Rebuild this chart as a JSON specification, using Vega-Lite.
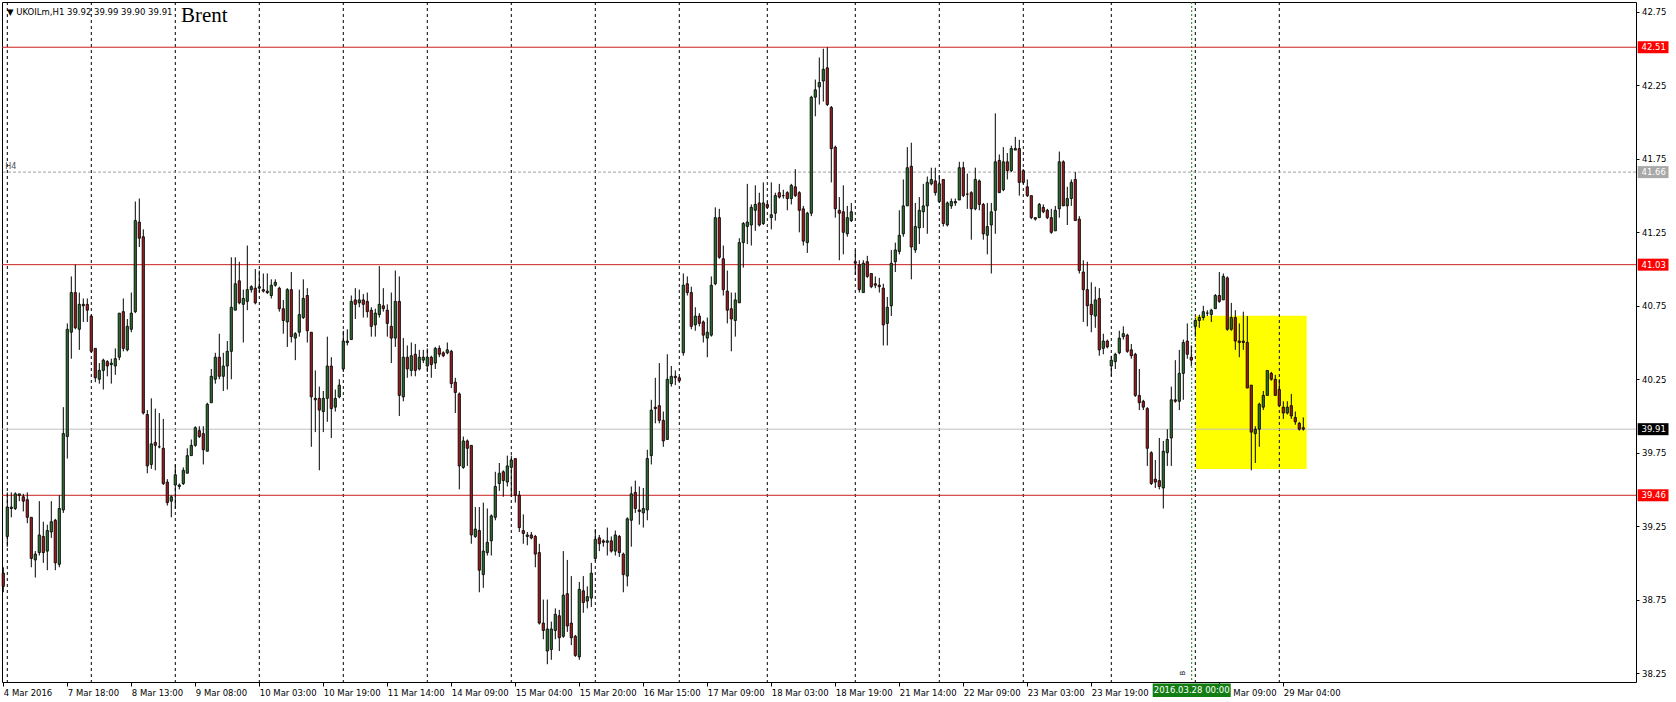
{
  "$schema": "https://vega.github.io/schema/vega-lite/v6.json",
  "width": 1634,
  "height": 680,
  "autosize": {"type": "none"},
  "padding": {"left": 2, "top": 2, "right": 40, "bottom": 20},
  "background": "white",
  "config": {
    "view": {"stroke": "black", "strokeWidth": 1},
    "scale": {"continuousPadding": 0},
    "axis": {"labelFont": "DejaVu Sans", "labelFontSize": 8.5, "labelColor": "black", "tickColor": "black", "domainColor": "black", "grid": false}
  },
  "datasets": {
    "candles": [
      {"i":0,"o":38.93,"h":38.97,"l":38.80,"c":38.84},
      {"i":1,"o":39.18,"h":39.48,"l":39.11,"c":39.38},
      {"i":2,"o":39.37,"h":39.48,"l":39.31,"c":39.38},
      {"i":3,"o":39.37,"h":39.48,"l":39.36,"c":39.47},
      {"i":4,"o":39.46,"h":39.47,"l":39.42,"c":39.47},
      {"i":5,"o":39.45,"h":39.47,"l":39.35,"c":39.42},
      {"i":6,"o":39.43,"h":39.48,"l":39.27,"c":39.31},
      {"i":7,"o":39.31,"h":39.31,"l":38.97,"c":39.03},
      {"i":8,"o":39.02,"h":39.08,"l":38.90,"c":39.06},
      {"i":9,"o":39.07,"h":39.42,"l":39.05,"c":39.19},
      {"i":10,"o":39.18,"h":39.28,"l":39.00,"c":39.07},
      {"i":11,"o":39.08,"h":39.26,"l":38.95,"c":39.22},
      {"i":12,"o":39.21,"h":39.42,"l":39.17,"c":39.28},
      {"i":13,"o":39.29,"h":39.30,"l":38.95,"c":39.00},
      {"i":14,"o":38.99,"h":39.46,"l":38.97,"c":39.37},
      {"i":15,"o":39.36,"h":40.06,"l":39.34,"c":39.88},
      {"i":16,"o":39.86,"h":40.63,"l":39.71,"c":40.59},
      {"i":17,"o":40.57,"h":40.95,"l":40.39,"c":40.84},
      {"i":18,"o":40.84,"h":41.03,"l":40.59,"c":40.60},
      {"i":19,"o":40.59,"h":40.84,"l":40.45,"c":40.76},
      {"i":20,"o":40.76,"h":40.80,"l":40.64,"c":40.75},
      {"i":21,"o":40.76,"h":40.80,"l":40.64,"c":40.72},
      {"i":22,"o":40.68,"h":40.69,"l":40.43,"c":40.44},
      {"i":23,"o":40.46,"h":40.46,"l":40.23,"c":40.26},
      {"i":24,"o":40.25,"h":40.36,"l":40.22,"c":40.31},
      {"i":25,"o":40.31,"h":40.39,"l":40.18,"c":40.38},
      {"i":26,"o":40.37,"h":40.38,"l":40.27,"c":40.34},
      {"i":27,"o":40.35,"h":40.39,"l":40.22,"c":40.36},
      {"i":28,"o":40.34,"h":40.46,"l":40.28,"c":40.39},
      {"i":29,"o":40.40,"h":40.70,"l":40.38,"c":40.70},
      {"i":30,"o":40.71,"h":40.80,"l":40.44,"c":40.46},
      {"i":31,"o":40.45,"h":40.66,"l":40.44,"c":40.61},
      {"i":32,"o":40.59,"h":40.84,"l":40.57,"c":40.70},
      {"i":33,"o":40.71,"h":41.46,"l":40.70,"c":41.33},
      {"i":34,"o":41.32,"h":41.48,"l":41.15,"c":41.21},
      {"i":35,"o":41.22,"h":41.27,"l":40.01,"c":40.02},
      {"i":36,"o":40.01,"h":40.04,"l":39.61,"c":39.66},
      {"i":37,"o":39.67,"h":40.12,"l":39.64,"c":39.81},
      {"i":38,"o":39.82,"h":40.05,"l":39.63,"c":39.80},
      {"i":39,"o":39.79,"h":40.02,"l":39.78,"c":39.79},
      {"i":40,"o":39.78,"h":39.98,"l":39.53,"c":39.54},
      {"i":41,"o":39.55,"h":39.57,"l":39.39,"c":39.41},
      {"i":42,"o":39.42,"h":39.46,"l":39.31,"c":39.45},
      {"i":43,"o":39.53,"h":39.67,"l":39.37,"c":39.60},
      {"i":44,"o":39.52,"h":39.54,"l":39.50,"c":39.53},
      {"i":45,"o":39.54,"h":39.65,"l":39.53,"c":39.63},
      {"i":46,"o":39.61,"h":39.78,"l":39.61,"c":39.73},
      {"i":47,"o":39.73,"h":39.84,"l":39.73,"c":39.80},
      {"i":48,"o":39.80,"h":39.93,"l":39.79,"c":39.92},
      {"i":49,"o":39.90,"h":39.93,"l":39.85,"c":39.86},
      {"i":50,"o":39.88,"h":39.93,"l":39.67,"c":39.77},
      {"i":51,"o":39.76,"h":40.09,"l":39.76,"c":40.08},
      {"i":52,"o":40.09,"h":40.32,"l":40.09,"c":40.27},
      {"i":53,"o":40.25,"h":40.43,"l":40.22,"c":40.40},
      {"i":54,"o":40.40,"h":40.56,"l":40.25,"c":40.27},
      {"i":55,"o":40.27,"h":40.43,"l":40.17,"c":40.34},
      {"i":56,"o":40.34,"h":40.51,"l":40.18,"c":40.44},
      {"i":57,"o":40.44,"h":41.08,"l":40.25,"c":40.74},
      {"i":58,"o":40.72,"h":41.08,"l":40.72,"c":40.90},
      {"i":59,"o":40.92,"h":41.05,"l":40.76,"c":40.77},
      {"i":60,"o":40.76,"h":40.86,"l":40.50,"c":40.80},
      {"i":61,"o":40.78,"h":41.16,"l":40.72,"c":40.86},
      {"i":62,"o":40.86,"h":40.89,"l":40.84,"c":40.88},
      {"i":63,"o":40.87,"h":41.00,"l":40.76,"c":40.77},
      {"i":64,"o":40.87,"h":40.99,"l":40.84,"c":40.88},
      {"i":65,"o":40.86,"h":40.97,"l":40.84,"c":40.85},
      {"i":66,"o":40.85,"h":40.97,"l":40.83,"c":40.84},
      {"i":67,"o":40.82,"h":40.93,"l":40.80,"c":40.89},
      {"i":68,"o":40.89,"h":40.93,"l":40.88,"c":40.91},
      {"i":69,"o":40.87,"h":40.88,"l":40.71,"c":40.73},
      {"i":70,"o":40.73,"h":40.79,"l":40.56,"c":40.65},
      {"i":71,"o":40.64,"h":40.87,"l":40.47,"c":40.86},
      {"i":72,"o":40.86,"h":40.98,"l":40.50,"c":40.54},
      {"i":73,"o":40.53,"h":40.57,"l":40.38,"c":40.56},
      {"i":74,"o":40.57,"h":40.86,"l":40.54,"c":40.69},
      {"i":75,"o":40.67,"h":40.93,"l":40.66,"c":40.80},
      {"i":76,"o":40.82,"h":40.87,"l":40.50,"c":40.58},
      {"i":77,"o":40.57,"h":40.57,"l":39.79,"c":40.13},
      {"i":78,"o":40.12,"h":40.31,"l":39.89,"c":40.11},
      {"i":79,"o":40.12,"h":40.20,"l":39.63,"c":40.04},
      {"i":80,"o":40.03,"h":40.17,"l":39.89,"c":40.12},
      {"i":81,"o":40.12,"h":40.54,"l":39.96,"c":40.34},
      {"i":82,"o":40.34,"h":40.40,"l":39.85,"c":40.05},
      {"i":83,"o":40.06,"h":40.18,"l":40.03,"c":40.12},
      {"i":84,"o":40.13,"h":40.25,"l":40.12,"c":40.21},
      {"i":85,"o":40.32,"h":40.58,"l":40.30,"c":40.51},
      {"i":86,"o":40.50,"h":40.59,"l":40.48,"c":40.51},
      {"i":87,"o":40.52,"h":40.82,"l":40.52,"c":40.78},
      {"i":88,"o":40.79,"h":40.87,"l":40.66,"c":40.76},
      {"i":89,"o":40.77,"h":40.86,"l":40.74,"c":40.79},
      {"i":90,"o":40.79,"h":40.83,"l":40.67,"c":40.76},
      {"i":91,"o":40.78,"h":40.84,"l":40.67,"c":40.71},
      {"i":92,"o":40.72,"h":40.74,"l":40.54,"c":40.61},
      {"i":93,"o":40.62,"h":40.73,"l":40.54,"c":40.70},
      {"i":94,"o":40.69,"h":41.02,"l":40.67,"c":40.76},
      {"i":95,"o":40.75,"h":40.87,"l":40.71,"c":40.73},
      {"i":96,"o":40.72,"h":40.76,"l":40.54,"c":40.63},
      {"i":97,"o":40.61,"h":40.84,"l":40.36,"c":40.53},
      {"i":98,"o":40.53,"h":40.99,"l":40.47,"c":40.78},
      {"i":99,"o":40.78,"h":40.95,"l":40.00,"c":40.14},
      {"i":100,"o":40.13,"h":40.53,"l":40.10,"c":40.40},
      {"i":101,"o":40.40,"h":40.48,"l":40.26,"c":40.32},
      {"i":102,"o":40.31,"h":40.50,"l":40.27,"c":40.41},
      {"i":103,"o":40.42,"h":40.49,"l":40.27,"c":40.31},
      {"i":104,"o":40.32,"h":40.45,"l":40.31,"c":40.40},
      {"i":105,"o":40.38,"h":40.45,"l":40.36,"c":40.40},
      {"i":106,"o":40.34,"h":40.46,"l":40.30,"c":40.40},
      {"i":107,"o":40.40,"h":40.41,"l":40.26,"c":40.35},
      {"i":108,"o":40.36,"h":40.47,"l":40.32,"c":40.46},
      {"i":109,"o":40.46,"h":40.48,"l":40.40,"c":40.42},
      {"i":110,"o":40.43,"h":40.44,"l":40.40,"c":40.41},
      {"i":111,"o":40.43,"h":40.50,"l":40.42,"c":40.45},
      {"i":112,"o":40.44,"h":40.45,"l":40.19,"c":40.22},
      {"i":113,"o":40.23,"h":40.26,"l":40.02,"c":40.16},
      {"i":114,"o":40.15,"h":40.16,"l":39.50,"c":39.66},
      {"i":115,"o":39.65,"h":39.86,"l":39.64,"c":39.83},
      {"i":116,"o":39.83,"h":39.84,"l":39.66,"c":39.78},
      {"i":117,"o":39.80,"h":39.80,"l":39.13,"c":39.19},
      {"i":118,"o":39.18,"h":39.38,"l":39.17,"c":39.23},
      {"i":119,"o":39.22,"h":39.38,"l":38.80,"c":38.95},
      {"i":120,"o":38.92,"h":39.41,"l":38.83,"c":39.08},
      {"i":121,"o":39.07,"h":39.37,"l":39.05,"c":39.14},
      {"i":122,"o":39.15,"h":39.33,"l":39.05,"c":39.32},
      {"i":123,"o":39.31,"h":39.62,"l":39.29,"c":39.52},
      {"i":124,"o":39.54,"h":39.68,"l":39.49,"c":39.61},
      {"i":125,"o":39.62,"h":39.63,"l":39.45,"c":39.56},
      {"i":126,"o":39.55,"h":39.73,"l":39.52,"c":39.66},
      {"i":127,"o":39.65,"h":39.73,"l":39.45,"c":39.70},
      {"i":128,"o":39.71,"h":39.71,"l":39.41,"c":39.46},
      {"i":129,"o":39.46,"h":39.49,"l":39.21,"c":39.24},
      {"i":130,"o":39.22,"h":39.33,"l":39.13,"c":39.20},
      {"i":131,"o":39.18,"h":39.21,"l":39.12,"c":39.19},
      {"i":132,"o":39.19,"h":39.21,"l":39.16,"c":39.17},
      {"i":133,"o":39.18,"h":39.19,"l":38.97,"c":39.06},
      {"i":134,"o":39.07,"h":39.13,"l":38.58,"c":38.59},
      {"i":135,"o":38.59,"h":38.75,"l":38.48,"c":38.54},
      {"i":136,"o":38.40,"h":38.75,"l":38.31,"c":38.55},
      {"i":137,"o":38.41,"h":38.60,"l":38.34,"c":38.55},
      {"i":138,"o":38.54,"h":38.69,"l":38.48,"c":38.65},
      {"i":139,"o":38.64,"h":38.68,"l":38.40,"c":38.49},
      {"i":140,"o":38.50,"h":39.08,"l":38.49,"c":38.78},
      {"i":141,"o":38.79,"h":39.02,"l":38.53,"c":38.57},
      {"i":142,"o":38.59,"h":38.91,"l":38.44,"c":38.49},
      {"i":143,"o":38.50,"h":38.51,"l":38.36,"c":38.37},
      {"i":144,"o":38.36,"h":38.87,"l":38.34,"c":38.82},
      {"i":145,"o":38.81,"h":38.91,"l":38.66,"c":38.73},
      {"i":146,"o":38.74,"h":38.84,"l":38.69,"c":38.77},
      {"i":147,"o":38.76,"h":39.00,"l":38.70,"c":38.93},
      {"i":148,"o":39.03,"h":39.23,"l":39.01,"c":39.16},
      {"i":149,"o":39.17,"h":39.19,"l":39.08,"c":39.13},
      {"i":150,"o":39.15,"h":39.16,"l":39.11,"c":39.14},
      {"i":151,"o":39.14,"h":39.24,"l":39.05,"c":39.15},
      {"i":152,"o":39.15,"h":39.18,"l":39.07,"c":39.08},
      {"i":153,"o":39.08,"h":39.22,"l":39.05,"c":39.19},
      {"i":154,"o":39.18,"h":39.19,"l":39.04,"c":39.07},
      {"i":155,"o":39.06,"h":39.07,"l":38.80,"c":38.92},
      {"i":156,"o":38.91,"h":39.31,"l":38.84,"c":39.30},
      {"i":157,"o":39.29,"h":39.52,"l":39.11,"c":39.47},
      {"i":158,"o":39.48,"h":39.56,"l":39.34,"c":39.37},
      {"i":159,"o":39.36,"h":39.52,"l":39.26,"c":39.35},
      {"i":160,"o":39.34,"h":39.51,"l":39.24,"c":39.37},
      {"i":161,"o":39.36,"h":39.77,"l":39.29,"c":39.71},
      {"i":162,"o":39.73,"h":40.11,"l":39.67,"c":40.04},
      {"i":163,"o":40.06,"h":40.26,"l":39.95,"c":40.05},
      {"i":164,"o":40.07,"h":40.36,"l":39.95,"c":39.97},
      {"i":165,"o":39.97,"h":40.03,"l":39.79,"c":39.83},
      {"i":166,"o":39.84,"h":40.42,"l":39.84,"c":40.25},
      {"i":167,"o":40.22,"h":40.34,"l":40.20,"c":40.27},
      {"i":168,"o":40.27,"h":40.31,"l":40.21,"c":40.26},
      {"i":169,"o":40.26,"h":40.27,"l":40.23,"c":40.24},
      {"i":170,"o":40.43,"h":40.97,"l":40.41,"c":40.89},
      {"i":171,"o":40.90,"h":40.95,"l":40.82,"c":40.84},
      {"i":172,"o":40.84,"h":40.88,"l":40.59,"c":40.61},
      {"i":173,"o":40.62,"h":40.74,"l":40.58,"c":40.68},
      {"i":174,"o":40.68,"h":40.70,"l":40.61,"c":40.63},
      {"i":175,"o":40.64,"h":40.65,"l":40.50,"c":40.55},
      {"i":176,"o":40.53,"h":40.67,"l":40.40,"c":40.57},
      {"i":177,"o":40.55,"h":40.95,"l":40.54,"c":40.89},
      {"i":178,"o":40.90,"h":41.42,"l":40.89,"c":41.35},
      {"i":179,"o":41.35,"h":41.41,"l":41.07,"c":41.08},
      {"i":180,"o":41.07,"h":41.16,"l":40.82,"c":40.86},
      {"i":181,"o":40.85,"h":40.99,"l":40.63,"c":40.72},
      {"i":182,"o":40.73,"h":40.84,"l":40.44,"c":40.66},
      {"i":183,"o":40.65,"h":40.84,"l":40.54,"c":40.79},
      {"i":184,"o":40.77,"h":41.21,"l":40.77,"c":41.18},
      {"i":185,"o":41.18,"h":41.32,"l":41.01,"c":41.31},
      {"i":186,"o":41.29,"h":41.58,"l":41.17,"c":41.32},
      {"i":187,"o":41.30,"h":41.44,"l":41.16,"c":41.42},
      {"i":188,"o":41.40,"h":41.57,"l":41.26,"c":41.44},
      {"i":189,"o":41.45,"h":41.52,"l":41.29,"c":41.30},
      {"i":190,"o":41.31,"h":41.59,"l":41.30,"c":41.45},
      {"i":191,"o":41.44,"h":41.46,"l":41.41,"c":41.42},
      {"i":192,"o":41.35,"h":41.59,"l":41.27,"c":41.37},
      {"i":193,"o":41.38,"h":41.52,"l":41.33,"c":41.50},
      {"i":194,"o":41.52,"h":41.58,"l":41.48,"c":41.49},
      {"i":195,"o":41.50,"h":41.54,"l":41.48,"c":41.50},
      {"i":196,"o":41.52,"h":41.53,"l":41.40,"c":41.48},
      {"i":197,"o":41.48,"h":41.58,"l":41.44,"c":41.57},
      {"i":198,"o":41.56,"h":41.68,"l":41.49,"c":41.50},
      {"i":199,"o":41.52,"h":41.53,"l":41.25,"c":41.40},
      {"i":200,"o":41.41,"h":41.43,"l":41.16,"c":41.19},
      {"i":201,"o":41.18,"h":41.39,"l":41.11,"c":41.38},
      {"i":202,"o":41.38,"h":42.18,"l":41.36,"c":42.17},
      {"i":203,"o":42.17,"h":42.29,"l":42.04,"c":42.22},
      {"i":204,"o":42.24,"h":42.44,"l":42.12,"c":42.27},
      {"i":205,"o":42.28,"h":42.50,"l":42.14,"c":42.36},
      {"i":206,"o":42.37,"h":42.51,"l":42.11,"c":42.12},
      {"i":207,"o":42.10,"h":42.11,"l":41.59,"c":41.82},
      {"i":208,"o":41.83,"h":41.84,"l":41.35,"c":41.41},
      {"i":209,"o":41.40,"h":41.49,"l":41.06,"c":41.38},
      {"i":210,"o":41.39,"h":41.57,"l":41.10,"c":41.25},
      {"i":211,"o":41.24,"h":41.43,"l":41.22,"c":41.35},
      {"i":212,"o":41.33,"h":41.45,"l":41.32,"c":41.39},
      {"i":213,"o":41.05,"h":41.13,"l":40.96,"c":41.04},
      {"i":214,"o":41.03,"h":41.06,"l":40.84,"c":40.86},
      {"i":215,"o":40.84,"h":41.06,"l":40.84,"c":41.04},
      {"i":216,"o":41.05,"h":41.09,"l":40.94,"c":40.95},
      {"i":217,"o":40.97,"h":40.97,"l":40.87,"c":40.88},
      {"i":218,"o":40.90,"h":40.95,"l":40.87,"c":40.89},
      {"i":219,"o":40.89,"h":40.94,"l":40.84,"c":40.88},
      {"i":220,"o":40.87,"h":40.90,"l":40.48,"c":40.62},
      {"i":221,"o":40.63,"h":40.81,"l":40.48,"c":40.74},
      {"i":222,"o":40.75,"h":41.13,"l":40.68,"c":41.04},
      {"i":223,"o":41.05,"h":41.18,"l":40.98,"c":41.13},
      {"i":224,"o":41.12,"h":41.40,"l":41.10,"c":41.23},
      {"i":225,"o":41.24,"h":41.61,"l":41.22,"c":41.43},
      {"i":226,"o":41.43,"h":41.83,"l":41.43,"c":41.69},
      {"i":227,"o":41.70,"h":41.86,"l":40.93,"c":41.15},
      {"i":228,"o":41.13,"h":41.45,"l":41.11,"c":41.29},
      {"i":229,"o":41.28,"h":41.49,"l":41.17,"c":41.40},
      {"i":230,"o":41.39,"h":41.58,"l":41.28,"c":41.43},
      {"i":231,"o":41.43,"h":41.63,"l":41.24,"c":41.59},
      {"i":232,"o":41.58,"h":41.69,"l":41.57,"c":41.61},
      {"i":233,"o":41.60,"h":41.69,"l":41.50,"c":41.52},
      {"i":234,"o":41.46,"h":41.64,"l":41.45,"c":41.58},
      {"i":235,"o":41.61,"h":41.61,"l":41.29,"c":41.31},
      {"i":236,"o":41.30,"h":41.46,"l":41.29,"c":41.45},
      {"i":237,"o":41.43,"h":41.48,"l":41.41,"c":41.46},
      {"i":238,"o":41.45,"h":41.48,"l":41.43,"c":41.46},
      {"i":239,"o":41.47,"h":41.73,"l":41.47,"c":41.69},
      {"i":240,"o":41.69,"h":41.73,"l":41.49,"c":41.50},
      {"i":241,"o":41.51,"h":41.65,"l":41.41,"c":41.51},
      {"i":242,"o":41.52,"h":41.53,"l":41.20,"c":41.41},
      {"i":243,"o":41.41,"h":41.69,"l":41.40,"c":41.61},
      {"i":244,"o":41.60,"h":41.61,"l":41.40,"c":41.44},
      {"i":245,"o":41.44,"h":41.45,"l":41.20,"c":41.24},
      {"i":246,"o":41.23,"h":41.45,"l":41.10,"c":41.29},
      {"i":247,"o":41.30,"h":41.45,"l":40.97,"c":41.39},
      {"i":248,"o":41.40,"h":42.06,"l":41.24,"c":41.73},
      {"i":249,"o":41.74,"h":41.78,"l":41.52,"c":41.52},
      {"i":250,"o":41.54,"h":41.83,"l":41.53,"c":41.73},
      {"i":251,"o":41.73,"h":41.79,"l":41.61,"c":41.67},
      {"i":252,"o":41.67,"h":41.84,"l":41.66,"c":41.82},
      {"i":253,"o":41.81,"h":41.90,"l":41.81,"c":41.82},
      {"i":254,"o":41.82,"h":41.88,"l":41.50,"c":41.59},
      {"i":255,"o":41.67,"h":41.68,"l":41.58,"c":41.59},
      {"i":256,"o":41.56,"h":41.61,"l":41.49,"c":41.50},
      {"i":257,"o":41.50,"h":41.50,"l":41.34,"c":41.35},
      {"i":258,"o":41.35,"h":41.35,"l":41.33,"c":41.34},
      {"i":259,"o":41.35,"h":41.45,"l":41.35,"c":41.44},
      {"i":260,"o":41.42,"h":41.44,"l":41.38,"c":41.39},
      {"i":261,"o":41.40,"h":41.41,"l":41.34,"c":41.35},
      {"i":262,"o":41.35,"h":41.41,"l":41.24,"c":41.25},
      {"i":263,"o":41.26,"h":41.43,"l":41.26,"c":41.40},
      {"i":264,"o":41.41,"h":41.80,"l":41.35,"c":41.73},
      {"i":265,"o":41.73,"h":41.74,"l":41.43,"c":41.43},
      {"i":266,"o":41.43,"h":41.56,"l":41.30,"c":41.48},
      {"i":267,"o":41.48,"h":41.61,"l":41.43,"c":41.59},
      {"i":268,"o":41.61,"h":41.66,"l":41.33,"c":41.33},
      {"i":269,"o":41.34,"h":41.36,"l":40.97,"c":40.99},
      {"i":270,"o":40.98,"h":41.06,"l":40.64,"c":40.86},
      {"i":271,"o":40.86,"h":41.05,"l":40.61,"c":40.75},
      {"i":272,"o":40.76,"h":40.91,"l":40.57,"c":40.69},
      {"i":273,"o":40.68,"h":40.88,"l":40.60,"c":40.79},
      {"i":274,"o":40.80,"h":40.87,"l":40.41,"c":40.45},
      {"i":275,"o":40.46,"h":40.56,"l":40.42,"c":40.51},
      {"i":276,"o":40.51,"h":40.52,"l":40.46,"c":40.47},
      {"i":277,"o":40.34,"h":40.41,"l":40.27,"c":40.38},
      {"i":278,"o":40.37,"h":40.43,"l":40.32,"c":40.42},
      {"i":279,"o":40.43,"h":40.58,"l":40.42,"c":40.53},
      {"i":280,"o":40.54,"h":40.61,"l":40.52,"c":40.56},
      {"i":281,"o":40.55,"h":40.56,"l":40.43,"c":40.44},
      {"i":282,"o":40.45,"h":40.49,"l":40.39,"c":40.41},
      {"i":283,"o":40.42,"h":40.43,"l":40.13,"c":40.14},
      {"i":284,"o":40.14,"h":40.32,"l":40.04,"c":40.09},
      {"i":285,"o":40.10,"h":40.11,"l":40.04,"c":40.06},
      {"i":286,"o":40.05,"h":40.06,"l":39.66,"c":39.78},
      {"i":287,"o":39.75,"h":39.76,"l":39.53,"c":39.54},
      {"i":288,"o":39.57,"h":39.70,"l":39.51,"c":39.55},
      {"i":289,"o":39.56,"h":39.85,"l":39.50,"c":39.52},
      {"i":290,"o":39.51,"h":39.83,"l":39.37,"c":39.76},
      {"i":291,"o":39.75,"h":39.91,"l":39.66,"c":39.84},
      {"i":292,"o":39.85,"h":40.20,"l":39.66,"c":40.11},
      {"i":293,"o":40.11,"h":40.38,"l":40.09,"c":40.10},
      {"i":294,"o":40.10,"h":40.45,"l":40.04,"c":40.29},
      {"i":295,"o":40.29,"h":40.52,"l":40.11,"c":40.50},
      {"i":296,"o":40.51,"h":40.63,"l":40.39,"c":40.42},
      {"i":297,"o":40.40,"h":40.48,"l":40.34,"c":40.38},
      {"i":298,"o":40.61,"h":40.67,"l":40.54,"c":40.65},
      {"i":299,"o":40.65,"h":40.69,"l":40.60,"c":40.67},
      {"i":300,"o":40.67,"h":40.75,"l":40.65,"c":40.71},
      {"i":301,"o":40.70,"h":40.72,"l":40.68,"c":40.70},
      {"i":302,"o":40.69,"h":40.73,"l":40.64,"c":40.72},
      {"i":303,"o":40.73,"h":40.83,"l":40.73,"c":40.82},
      {"i":304,"o":40.82,"h":40.98,"l":40.77,"c":40.78},
      {"i":305,"o":40.79,"h":40.97,"l":40.79,"c":40.95},
      {"i":306,"o":40.94,"h":40.95,"l":40.58,"c":40.59},
      {"i":307,"o":40.59,"h":40.77,"l":40.58,"c":40.67},
      {"i":308,"o":40.67,"h":40.72,"l":40.45,"c":40.51},
      {"i":309,"o":40.51,"h":40.63,"l":40.40,"c":40.50},
      {"i":310,"o":40.51,"h":40.71,"l":40.45,"c":40.50},
      {"i":311,"o":40.50,"h":40.68,"l":40.19,"c":40.19},
      {"i":312,"o":40.21,"h":40.21,"l":39.63,"c":39.89},
      {"i":313,"o":39.88,"h":39.93,"l":39.68,"c":39.91},
      {"i":314,"o":39.91,"h":40.09,"l":39.79,"c":40.08},
      {"i":315,"o":40.06,"h":40.17,"l":40.04,"c":40.14},
      {"i":316,"o":40.14,"h":40.31,"l":40.14,"c":40.31},
      {"i":317,"o":40.29,"h":40.30,"l":40.24,"c":40.25},
      {"i":318,"o":40.25,"h":40.28,"l":40.14,"c":40.14},
      {"i":319,"o":40.18,"h":40.25,"l":40.06,"c":40.07},
      {"i":320,"o":40.06,"h":40.10,"l":39.98,"c":40.02},
      {"i":321,"o":40.02,"h":40.10,"l":40.01,"c":40.06},
      {"i":322,"o":40.07,"h":40.15,"l":39.98,"c":40.00},
      {"i":323,"o":39.99,"h":40.03,"l":39.94,"c":39.96},
      {"i":324,"o":39.95,"h":39.96,"l":39.90,"c":39.91},
      {"i":325,"o":39.92,"h":39.99,"l":39.90,"c":39.91}
    ],
    "seps": [{"i":1},{"i":22},{"i":43},{"i":64},{"i":85},{"i":106},{"i":127},{"i":148},{"i":169},{"i":191},{"i":213},{"i":234},{"i":255},{"i":277},{"i":298},{"i":319}],
    "levels": [
      {"p":42.51,"kind":"level"},
      {"p":41.03,"kind":"level"},
      {"p":39.46,"kind":"level"},
      {"p":41.66,"kind":"H4"},
      {"p":39.91,"kind":"bid"}
    ],
    "zones": [{"i0":298.1,"i1":325.85,"p0":39.639,"p1":40.683}],
    "markers": [{"i":297.1,"label":"2016.03.28 00:00"}]
  },
  "layer": [
    {
      "data": {"name": "zones"},
      "mark": {"type": "rect", "color": "#ffff00"},
      "encoding": {
        "x": {"field": "i0", "type": "quantitative", "title": null,
          "scale": {"domain": [-0.325, 408.175], "nice": false, "zero": false, "padding": 0},
          "axis": {"orient": "bottom", "title": null, "values": [0,16,32,48,64,80,96,112,128,144,160,176,192,208,224,240,256,272,304,320],
            "labelExpr": "['4 Mar 2016','7 Mar 18:00','8 Mar 13:00','9 Mar 08:00','10 Mar 03:00','10 Mar 19:00','11 Mar 14:00','14 Mar 09:00','15 Mar 04:00','15 Mar 20:00','16 Mar 15:00','17 Mar 09:00','18 Mar 03:00','18 Mar 19:00','21 Mar 14:00','22 Mar 09:00','23 Mar 03:00','23 Mar 19:00','24 Mar 14:00','28 Mar 09:00','29 Mar 04:00'][round(datum.value/16)]",
            "labelAlign": "left", "labelBaseline": "top", "labelPadding": 2, "tickSize": 4, "domain": false,
            "labelOverlap": false, "labelFlush": false, "labelBound": false, "labelDx": 1}},
        "x2": {"field": "i1"},
        "y": {"field": "p0", "type": "quantitative", "title": null,
          "scale": {"domain": [38.189, 42.818], "nice": false, "zero": false, "padding": 0},
          "axis": {"orient": "right", "title": null, "values": [38.25,38.5,38.75,39,39.25,39.5,39.75,40,40.25,40.5,40.75,41,41.25,41.5,41.75,42,42.25,42.5,42.75],
            "format": ".2f", "tickSize": 3, "labelPadding": 2.5, "domain": false, "labelOverlap": false, "labelFlush": false}},
        "y2": {"field": "p1"}
      }
    },
    {
      "data": {"name": "seps"},
      "mark": {"type": "rule", "color": "black", "strokeDash": [3, 3], "strokeWidth": 1},
      "encoding": {"x": {"field": "i", "type": "quantitative", "title": null}}
    },
    {
      "data": {"name": "markers"},
      "mark": {"type": "rule", "color": "#138a13", "strokeDash": [2, 2], "strokeWidth": 1},
      "encoding": {"x": {"field": "i", "type": "quantitative", "title": null}}
    },
    {
      "data": {"name": "levels"},
      "transform": [{"filter": "datum.kind === 'level'"}],
      "mark": {"type": "rule", "color": "#cc2020", "strokeWidth": 1},
      "encoding": {"y": {"field": "p", "type": "quantitative", "title": null}}
    },
    {
      "data": {"name": "levels"},
      "transform": [{"filter": "datum.kind === 'H4'"}],
      "mark": {"type": "rule", "color": "#a0a0a0", "strokeWidth": 1, "strokeDash": [3, 2]},
      "encoding": {"y": {"field": "p", "type": "quantitative", "title": null}}
    },
    {
      "data": {"name": "levels"},
      "transform": [{"filter": "datum.kind === 'bid'"}],
      "mark": {"type": "rule", "color": "#c0c0c0", "strokeWidth": 1},
      "encoding": {"y": {"field": "p", "type": "quantitative", "title": null}}
    },
    {
      "data": {"name": "candles"},
      "mark": {"type": "rule", "color": "black", "strokeWidth": 1},
      "encoding": {
        "x": {"field": "i", "type": "quantitative", "title": null},
        "y": {"field": "l", "type": "quantitative", "title": null},
        "y2": {"field": "h"}
      }
    },
    {
      "data": {"name": "candles"},
      "mark": {"type": "bar", "size": 2.3, "stroke": "black", "strokeWidth": 0.8},
      "encoding": {
        "x": {"field": "i", "type": "quantitative", "title": null},
        "y": {"field": "o", "type": "quantitative", "title": null},
        "y2": {"field": "c"},
        "fill": {"condition": {"test": "datum.c >= datum.o", "value": "#2a6b2a"}, "value": "#9a1c1c"}
      }
    },
    {
      "data": {"name": "levels"},
      "mark": {"type": "bar", "size": 12, "orient": "horizontal"},
      "encoding": {
        "x": {"datum": 408.6, "type": "quantitative"},
        "x2": {"datum": 416.3},
        "y": {"field": "p", "type": "quantitative", "title": null},
        "color": {"field": "kind", "type": "nominal", "legend": null,
          "scale": {"domain": ["level", "H4", "bid"], "range": ["#ff0000", "#a8a8a8", "#000000"]}}
      }
    },
    {
      "data": {"name": "levels"},
      "mark": {"type": "text", "color": "white", "align": "left", "baseline": "middle", "font": "DejaVu Sans", "fontSize": 8.5},
      "encoding": {
        "x": {"datum": 409.55, "type": "quantitative"},
        "y": {"field": "p", "type": "quantitative", "title": null},
        "text": {"field": "p", "type": "quantitative", "format": ".2f"}
      }
    },
    {
      "data": {"name": "markers"},
      "mark": {"type": "bar", "size": 78, "color": "#127d12"},
      "encoding": {
        "x": {"field": "i", "type": "quantitative", "title": null},
        "y": {"datum": 38.179, "type": "quantitative"},
        "y2": {"datum": 38.087}
      }
    },
    {
      "data": {"name": "markers"},
      "mark": {"type": "text", "color": "white", "align": "center", "baseline": "middle", "font": "DejaVu Sans", "fontSize": 8.5},
      "encoding": {
        "x": {"field": "i", "type": "quantitative", "title": null},
        "y": {"datum": 38.135, "type": "quantitative"},
        "text": {"field": "label"}
      }
    },
    {
      "data": {"values": [{"t": "▼ UKOILm,H1  39.92 39.99 39.90 39.91"}]},
      "mark": {"type": "text", "color": "black", "align": "left", "baseline": "middle", "font": "DejaVu Sans", "fontSize": 8.5},
      "encoding": {
        "x": {"datum": 0.93, "type": "quantitative"},
        "y": {"datum": 42.752, "type": "quantitative"},
        "text": {"field": "t"}
      }
    },
    {
      "data": {"values": [{"t": "Brent"}]},
      "mark": {"type": "text", "color": "black", "align": "left", "baseline": "alphabetic", "font": "Liberation Serif", "fontSize": 21},
      "encoding": {
        "x": {"datum": 44.4, "type": "quantitative"},
        "y": {"datum": 42.684, "type": "quantitative"},
        "text": {"field": "t"}
      }
    },
    {
      "data": {"values": [{"t": "H4"}]},
      "mark": {"type": "text", "color": "#505050", "align": "left", "baseline": "alphabetic", "font": "DejaVu Sans", "fontSize": 8},
      "encoding": {
        "x": {"datum": 0.5, "type": "quantitative"},
        "y": {"datum": 41.681, "type": "quantitative"},
        "text": {"field": "t"}
      }
    },
    {
      "data": {"values": [{"t": "B"}]},
      "mark": {"type": "text", "color": "black", "align": "center", "baseline": "middle", "font": "DejaVu Sans", "fontSize": 7, "angle": 270},
      "encoding": {
        "x": {"datum": 294.9, "type": "quantitative"},
        "y": {"datum": 38.25, "type": "quantitative"},
        "text": {"field": "t"}
      }
    }
  ]
}
